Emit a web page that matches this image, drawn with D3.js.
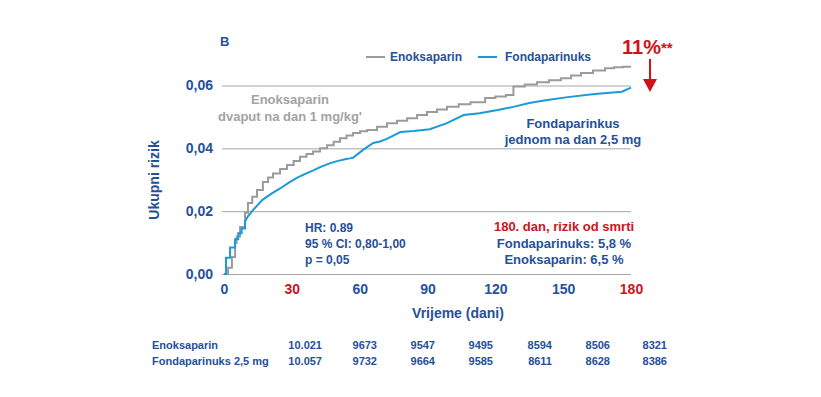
<!DOCTYPE html>
<html>
<head>
<meta charset="utf-8">
<script src="https://cdn.jsdelivr.net/npm/d3@7"></script>
<style>
  body { margin: 0; background: #fff; }
  svg text { font-family: "Liberation Sans", Arial, sans-serif; font-weight: bold; }
</style>
</head>
<body>
<div id="chart"></div>
<script>
// Data (day, cumulative risk)
const enoxDays = [0, 1.8, 3.5, 4.9, 5.6, 7.1, 9.3, 10.6, 12.5, 14.6, 17.2, 19.5, 21.7, 24.8, 27.9, 30.8, 33.6, 36.5, 39.4, 42.5, 45.6, 48.5, 51.3, 54.2, 57.1, 60.2, 63.3, 67.7, 72.1, 76.5, 81, 85.4, 89.8, 94.2, 98.6, 103.8, 109, 115.5, 120, 124.7, 128, 133, 138.4, 143.7, 149, 153.5, 157.9, 163.2, 168.5, 172.5, 176.5, 180];
const enoxRisk = [0, 0.002, 0.0054, 0.0099, 0.0119, 0.015, 0.0195, 0.0226, 0.0246, 0.0267, 0.0293, 0.0307, 0.032, 0.0334, 0.0347, 0.036, 0.0373, 0.0382, 0.039, 0.04, 0.041, 0.0421, 0.0432, 0.0441, 0.0449, 0.0454, 0.0458, 0.0469, 0.048, 0.0488, 0.0496, 0.0506, 0.0516, 0.0524, 0.0532, 0.054, 0.0547, 0.056, 0.0565, 0.057, 0.0597, 0.0603, 0.061, 0.0617, 0.0623, 0.0632, 0.064, 0.0648, 0.0655, 0.0658, 0.066, 0.066];

const fondaDays = [0, 0.9, 0.9, 2.7, 2.7, 4.9, 4.9, 6.3, 6.3, 7.8, 7.8, 9.3, 9.3, 10.5, 13, 17, 21, 25, 28.5, 32, 35.7, 39.5, 43, 47, 50.5, 54, 55.7, 57, 61.5, 66, 69, 72, 78, 84, 91, 98.6, 106, 113, 121, 128, 135, 143, 152, 164, 176, 180];
const fondaRisk = [0, 0, 0.0052, 0.0052, 0.0084, 0.0084, 0.0111, 0.0111, 0.013, 0.013, 0.0145, 0.0145, 0.0167, 0.0183, 0.0205, 0.0236, 0.0256, 0.0273, 0.029, 0.0305, 0.0318, 0.033, 0.0342, 0.0353, 0.036, 0.0366, 0.0368, 0.037, 0.0395, 0.0417, 0.0422, 0.043, 0.0452, 0.0455, 0.0461, 0.048, 0.0506, 0.0512, 0.0522, 0.0532, 0.0544, 0.0554, 0.0563, 0.0573, 0.058, 0.0593];

const xTicks = [0, 30, 60, 90, 120, 150, 180];
const redTicks = [30, 180];
const yTicks = [0, 0.02, 0.04, 0.06];

const tableRows = ["Enoksaparin", "Fondaparinuks 2,5 mg"];
const enoxAtRisk = ["10.021", "9673", "9547", "9495", "8594", "8506", "8321"];
const fondaAtRisk = ["10.057", "9732", "9664", "9585", "8611", "8628", "8386"];

const W = 821, H = 397;
const blue = "#25509a", red = "#d0121b", grey = "#9b9b9b", cyan = "#1a9ad8";

const svg = d3.select("#chart").append("svg")
    .attr("width", W).attr("height", H);

const x = d3.scaleLinear().domain([0, 180]).range([224, 631]);
const y = d3.scaleLinear().domain([0, 0.06]).range([274, 85.5]);

// horizontal grid + y labels
svg.append("g")
    .attr("transform", "translate(222,0)")
    .call(d3.axisLeft(y).tickValues(yTicks).tickSize(-409).tickPadding(9)
        .tickFormat(d => d3.format(".2f")(d).replace(".", ",")))
    .call(g => g.select(".domain").remove())
    .call(g => g.selectAll("line").attr("stroke", "#a6a6a6").attr("stroke-width", 1))
    .call(g => g.selectAll("text").attr("fill", blue).style("font-size", "14px"));

// x tick labels
svg.append("g")
    .attr("transform", "translate(0,274)")
    .call(d3.axisBottom(x).tickValues(xTicks).tickSize(0).tickPadding(10))
    .call(g => g.select(".domain").remove())
    .call(g => g.selectAll("text")
        .attr("fill", d => redTicks.includes(d) ? red : blue)
        .style("font-size", "14px"));

// curves
const enoxLine = d3.line().x(d => x(d[0])).y(d => y(d[1])).curve(d3.curveStepAfter);
const fondaLine = d3.line().x(d => x(d[0])).y(d => y(d[1]));

svg.append("path")
    .datum(enoxDays.map((d, i) => [d, enoxRisk[i]]))
    .attr("fill", "none").attr("stroke", grey).attr("stroke-width", 2)
    .attr("d", enoxLine);

svg.append("path")
    .datum(fondaDays.map((d, i) => [d, fondaRisk[i]]))
    .attr("fill", "none").attr("stroke", cyan).attr("stroke-width", 2)
    .attr("d", fondaLine);

// panel letter
svg.append("text").attr("x", 220).attr("y", 46).attr("fill", blue)
    .style("font-size", "13px").text("B");

// legend
const legend = [["Enoksaparin", grey, 366, 390], ["Fondaparinuks", cyan, 478, 505]];
legend.forEach(l => {
    svg.append("line").attr("x1", l[2]).attr("x2", l[2] + 19).attr("y1", 57).attr("y2", 57)
        .attr("stroke", l[1]).attr("stroke-width", 2);
    svg.append("text").attr("x", l[3]).attr("y", 61).attr("fill", blue)
        .style("font-size", "12px").text(l[0]);
});

// 11%** and arrow
const pct = svg.append("text").attr("x", 622).attr("y", 54).attr("fill", red);
pct.append("tspan").style("font-size", "20px").text("11%");
pct.append("tspan").style("font-size", "15px").attr("dy", -1).text("**");

svg.append("line").attr("x1", 650).attr("x2", 650).attr("y1", 59).attr("y2", 80)
    .attr("stroke", red).attr("stroke-width", 2);
svg.append("path").attr("d", "M643,79 L657,79 L650,92 Z").attr("fill", red);

// annotations
function block(lines, xPos, y0, dy, anchor, colors, size) {
    lines.forEach((t, i) => {
        svg.append("text").attr("x", xPos).attr("y", y0 + i * dy)
            .attr("text-anchor", anchor).attr("fill", colors[i])
            .style("font-size", size).text(t);
    });
}
block(["Enoksaparin", "dvaput na dan 1 mg/kg'"], 290, 104, 17, "middle", ["#a3a3a3", "#a3a3a3"], "13px");
block(["Fondaparinkus", "jednom na dan 2,5 mg"], 573, 128, 16, "middle", [blue, blue], "13px");
block(["HR: 0.89", "95 % CI: 0,80-1,00", "p = 0,05"], 305, 232, 16, "start", [blue, blue, blue], "12px");
block(["180. dan, rizik od smrti", "Fondaparinuks: 5,8 %", "Enoksaparin: 6,5 %"], 564, 231, 16.5, "middle", [red, blue, blue], "13px");

// axis titles
svg.append("text")
    .attr("transform", "translate(159,180) rotate(-90)")
    .attr("text-anchor", "middle").attr("fill", blue)
    .style("font-size", "14px").text("Ukupni rizik");

svg.append("text").attr("x", 458).attr("y", 318).attr("text-anchor", "middle")
    .attr("fill", blue).style("font-size", "14px").text("Vrijeme (dani)");

// numbers at risk
const colRight = [322, 377, 435, 493, 552, 610, 667];
[enoxAtRisk, fondaAtRisk].forEach((row, r) => {
    const yy = 349 + r * 16;
    svg.append("text").attr("x", 152).attr("y", yy).attr("fill", blue)
        .style("font-size", "11px").text(tableRows[r]);
    row.forEach((v, i) => {
        svg.append("text").attr("x", colRight[i]).attr("y", yy).attr("text-anchor", "end")
            .attr("fill", blue).style("font-size", "11px").text(v);
    });
});
</script>
</body>
</html>
